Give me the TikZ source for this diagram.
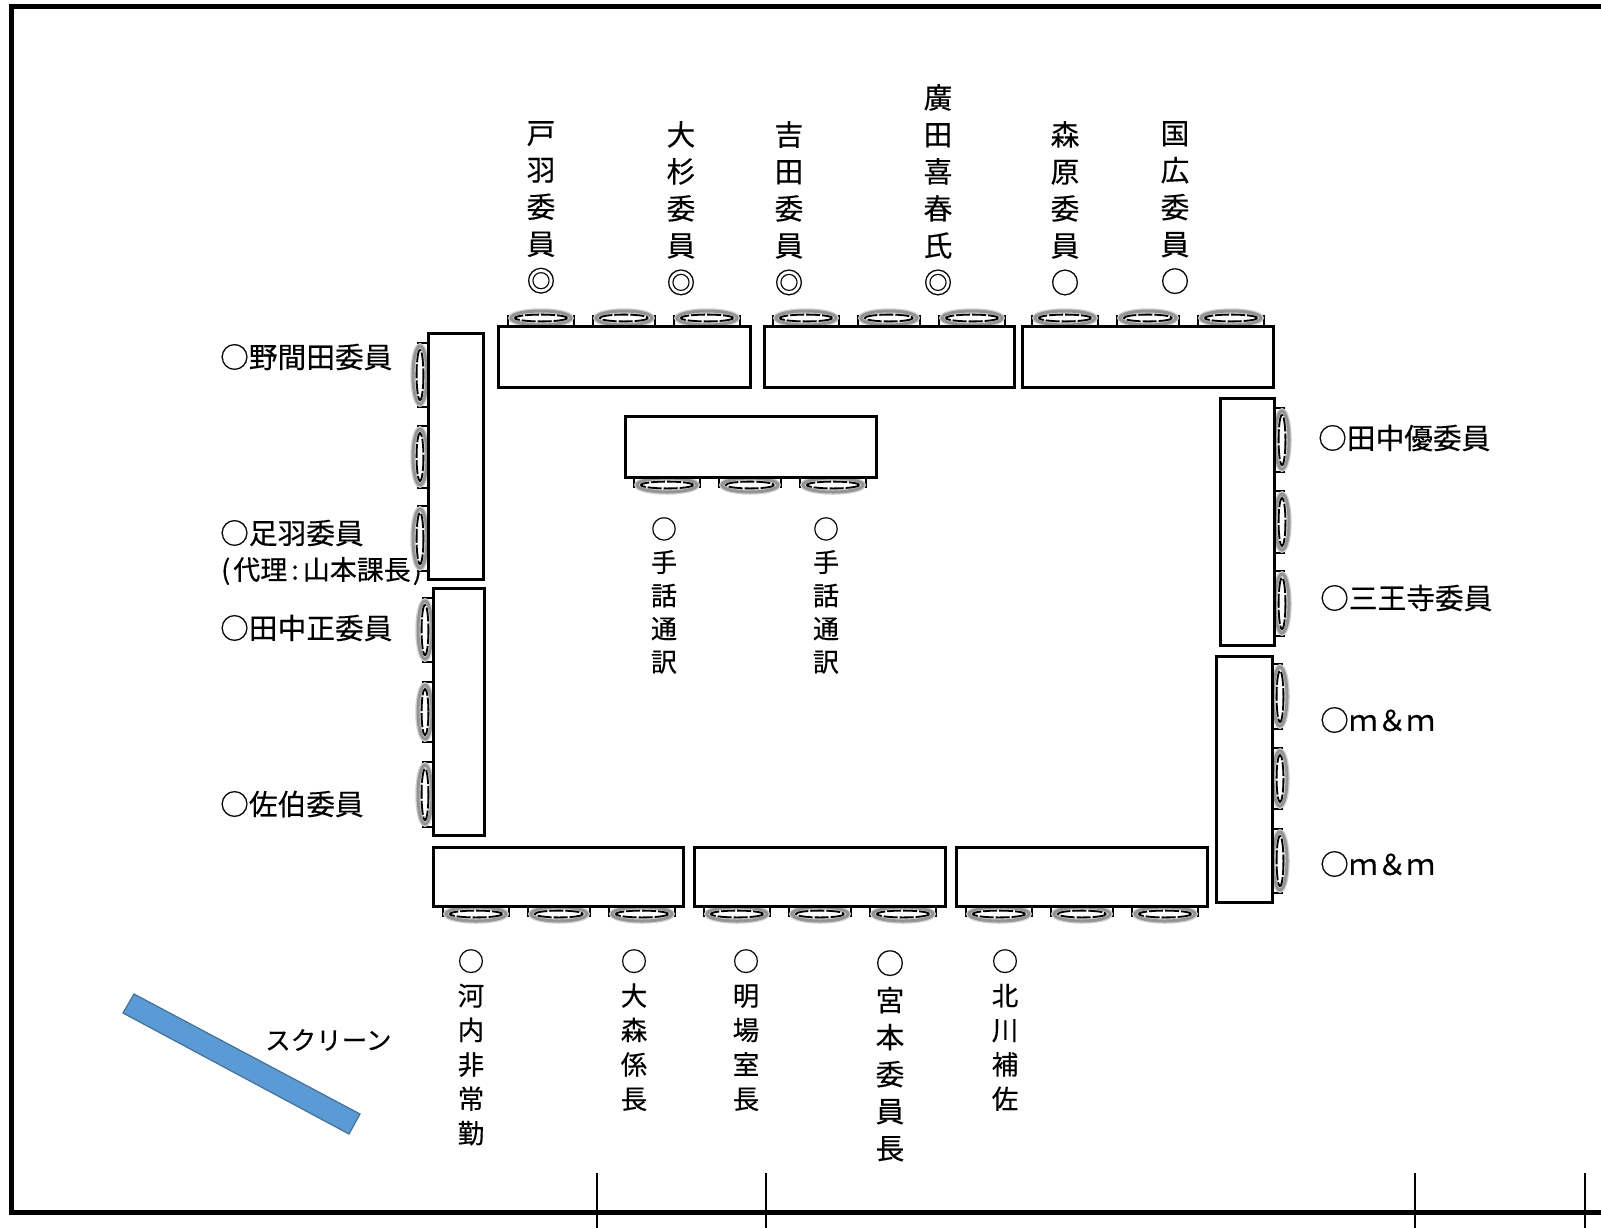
\documentclass[tikz,border=0pt]{standalone}
\usepackage{fontspec}
\setmainfont{Noto Sans CJK JP}[FakeBold=0.35]
\newcommand{\fsA}{\fontsize{28.7}{37}\selectfont}
\newcommand{\fsB}{\fontsize{26.5}{34.4}\selectfont}
\newcommand{\fsC}{\fontsize{25.5}{30}\selectfont}
\newcommand{\fsD}{\fontsize{26}{33.2}\selectfont}
\newcommand{\fsE}{\fontsize{27}{30}\selectfont}
\tikzset{
  x=1pt,y=-1pt,
  tablebox/.style={draw=black,fill=white,line width=3pt},
  framebar/.style={line width=5pt,draw=black},
  tickbar/.style={line width=2.6pt,draw=black},
  lab/.style={anchor=west,inner sep=0pt,font=\fsA},
  vlab/.style={anchor=north,inner sep=0pt,align=center},
  screenbar/.style={fill={rgb,255:red,91;green,155;blue,213},draw={rgb,255:red,65;green,113;blue,156},line width=1.2pt},
  chairlid/.style={draw=black,line width=2.8pt},
  chairglow/.style={draw=black!18,line width=5.5pt},
  chairhalo/.style={draw=black!42,line width=3pt},
  chairline/.style={draw=black,line width=1.8pt,dash pattern=on 14pt off 2pt}
}
% horizontal chair: x1,x2, table edge y, direction (-1 up, 1 down)
\newcommand{\chairH}[4]{%
  \pgfmathsetmacro{\ca}{#3+10*(#4)}\pgfmathsetmacro{\cb}{#3+8*(#4)}%
  \pgfmathsetmacro{\cm}{(#1+#2)/2}\pgfmathsetmacro{\cr}{(#2-#1)/2-3}%
  \draw[chairlid] (#1,#3) -- (#1,\ca) -- (#1+8,\ca) (#2,#3) -- (#2,\ca) -- (#2-8,\ca);
  \draw[chairglow] (\cm,\cb) ellipse ({\cr} and 7);
  \draw[chairhalo] (\cm,\cb) ellipse ({\cr} and 7);
  \draw[chairline] (\cm,\cb) ellipse ({\cr-4} and 3.4);
}
% vertical chair: y1,y2, table edge x, direction (-1 left, 1 right)
\newcommand{\chairV}[4]{%
  \pgfmathsetmacro{\ca}{#3+10*(#4)}\pgfmathsetmacro{\cb}{#3+8*(#4)}%
  \pgfmathsetmacro{\cm}{(#1+#2)/2}\pgfmathsetmacro{\cr}{(#2-#1)/2-3}%
  \draw[chairlid] (#3,#1) -- (\ca,#1) -- (\ca,#1+8) (#3,#2) -- (\ca,#2) -- (\ca,#2-8);
  \draw[chairglow] (\cb,\cm) ellipse (7 and {\cr});
  \draw[chairhalo] (\cb,\cm) ellipse (7 and {\cr});
  \draw[chairline] (\cb,\cm) ellipse (3.4 and {\cr-4});
}
\begin{document}
\begin{tikzpicture}
\path[use as bounding box,clip] (0,0) rectangle (1601,1227);
\fill[white] (0,0) rectangle (1601,1227);
% frame
\draw[framebar] (1620,6) -- (11,6) -- (11,1212) -- (1620,1212);
\draw[tickbar] (597,1173) -- (597,1235);
\draw[tickbar] (766,1173) -- (766,1235);
\draw[tickbar] (1415,1173) -- (1415,1235);
\draw[tickbar] (1585,1173) -- (1585,1235);
% screen
\draw[screenbar] (134,994) -- (123,1013) -- (349,1134) -- (360,1114) -- cycle;
\node[lab,font=\fsC] (screen) at (265,1040) {スクリーン};
% left labels
\node[lab] (noma) at (220,357) {○野間田委員};
\node[lab] (ashiba) at (220,533) {○足羽委員};
\node[lab,font=\fsE] (dairi) at (221,571) {(\kern3pt 代理\kern4pt:\kern4pt 山本課長\kern2pt)};
\node[lab] (tanakam) at (220,628) {○田中正委員};
\node[lab] (saeki) at (220,804) {○佐伯委員};
% right labels
\node[lab] (tanakay) at (1318,438) {○田中優委員};
\node[lab] (sanno) at (1320,598) {○三王寺委員};
\node[lab] (mm1) at (1320,720) {○ｍ＆ｍ};
\node[lab] (mm2) at (1320,864) {○ｍ＆ｍ};
% top labels
\node[vlab,font=\fsA] (toba) at (541,121) {戸\\羽\\委\\員\\◎};
\node[vlab,font=\fsA] (osugi) at (681,121) {大\\杉\\委\\員\\◎};
\node[vlab,font=\fsA] (yoshida) at (789,121) {吉\\田\\委\\員\\◎};
\node[vlab,font=\fsA] (hirota) at (938,84) {廣\\田\\喜\\春\\氏\\◎};
\node[vlab,font=\fsA] (morihara) at (1065,121) {森\\原\\委\\員\\○};
\node[vlab,font=\fsA] (kunihiro) at (1175,121) {国\\広\\委\\員\\○};
% interpreters
\node[vlab,font=\fsD] (shuwa1) at (664,517) {○\\手\\話\\通\\訳};
\node[vlab,font=\fsD] (shuwa2) at (826,517) {○\\手\\話\\通\\訳};
% bottom labels
\node[vlab,font=\fsB] (kawachi) at (471,949) {○\\河\\内\\非\\常\\勤};
\node[vlab,font=\fsB] (omori) at (634,949) {○\\大\\森\\係\\長};
\node[vlab,font=\fsB] (akeba) at (746,949) {○\\明\\場\\室\\長};
\node[vlab,font=\fsA] (miyamoto) at (890,950) {○\\宮\\本\\委\\員\\長};
\node[vlab,font=\fsB] (kitagawa) at (1005,949) {○\\北\\川\\補\\佐};
% chairs top
\chairH{508}{574}{326}{-1}\chairH{593}{655}{326}{-1}\chairH{674}{740}{326}{-1}
\chairH{773}{839}{326}{-1}\chairH{858}{920}{326}{-1}\chairH{939}{1005}{326}{-1}
\chairH{1032}{1098}{326}{-1}\chairH{1117}{1179}{326}{-1}\chairH{1198}{1264}{326}{-1}
% chairs centre
\chairH{634}{700}{477}{1}\chairH{719}{781}{477}{1}\chairH{800}{866}{477}{1}
% chairs bottom
\chairH{443}{509}{906}{1}\chairH{528}{590}{906}{1}\chairH{609}{675}{906}{1}
\chairH{704}{770}{906}{1}\chairH{789}{851}{906}{1}\chairH{870}{936}{906}{1}
\chairH{966}{1032}{906}{1}\chairH{1051}{1113}{906}{1}\chairH{1132}{1198}{906}{1}
% chairs left
\chairV{343}{407}{428}{-1}\chairV{426}{488}{428}{-1}\chairV{506}{571}{428}{-1}
\chairV{598}{662}{433}{-1}\chairV{682}{742}{433}{-1}\chairV{762}{827}{433}{-1}
% chairs right
\chairV{408}{472}{1274}{1}\chairV{491}{553}{1274}{1}\chairV{571}{636}{1274}{1}
\chairV{664}{729}{1272}{1}\chairV{748}{809}{1272}{1}\chairV{829}{893}{1272}{1}
% tables
\draw[tablebox] (498,326) rectangle (750,387);
\draw[tablebox] (764,326) rectangle (1014,387);
\draw[tablebox] (1022,326) rectangle (1273,387);
\draw[tablebox] (625,416) rectangle (876,477);
\draw[tablebox] (428,333) rectangle (483,579);
\draw[tablebox] (433,588) rectangle (484,835);
\draw[tablebox] (1220,398) rectangle (1274,645);
\draw[tablebox] (1216,656) rectangle (1272,902);
\draw[tablebox] (433,847) rectangle (683,906);
\draw[tablebox] (694,847) rectangle (945,906);
\draw[tablebox] (956,847) rectangle (1207,906);
\end{tikzpicture}
\end{document}
